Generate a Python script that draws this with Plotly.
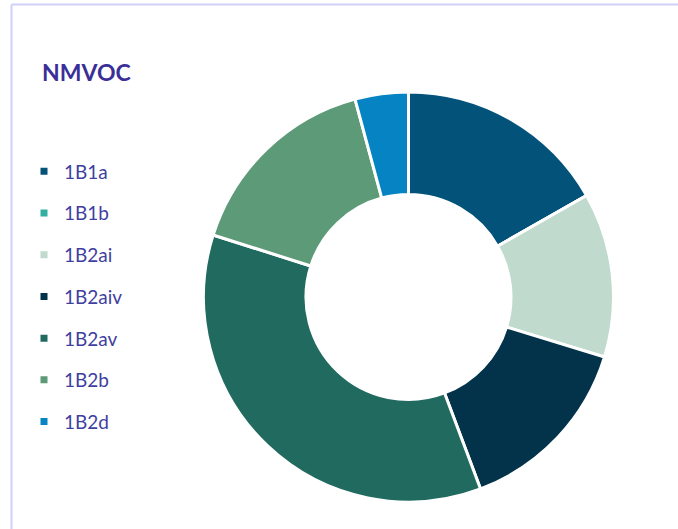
import plotly.graph_objects as go

categories = ["1B1a", "1B1b", "1B2ai", "1B2aiv", "1B2av", "1B2b", "1B2d"]
values = [16.75, 0.0, 12.97, 14.55, 35.6, 15.9, 4.2]
colors = ["#03527a", "#30afa2", "#c0dacd", "#02334a", "#206a60", "#5c9a78", "#0583c3"]
title_text = "NMVOC"

W, H = 678, 529
text_color = "#3f3fa0"

fig = go.Figure()

fig.add_trace(go.Pie(
    labels=categories,
    values=values,
    marker=dict(colors=colors, line=dict(color="white", width=3)),
    hole=0.5,
    sort=False,
    direction="clockwise",
    rotation=0,
    textinfo="none",
    hoverinfo="label+percent",
    showlegend=False,
    domain=dict(x=[203.5 / W, 613.5 / W], y=[27 / H, 437 / H]),
))

# legend entries (one per category)
for i, (cat, col) in enumerate(zip(categories, colors)):
    fig.add_trace(go.Scatter(
        x=[None], y=[None], mode="markers", name=cat,
        marker=dict(symbol="square", size=7, color=col),
        legendgroup=f"g{i}", showlegend=True,
    ))

fig.update_layout(
    width=W, height=H,
    margin=dict(l=0, r=0, t=0, b=0),
    paper_bgcolor="white",
    plot_bgcolor="white",
    xaxis=dict(visible=False),
    yaxis=dict(visible=False),
    title=dict(
        text=f"<b>{title_text}</b>",
        x=42 / W, xanchor="left",
        y=1 - 65 / H, yanchor="top",
        font=dict(family="Lato", size=23, color="#3a2f98"),
    ),
    legend=dict(
        x=24 / W, xanchor="left",
        y=1 - 152.5 / H, yanchor="top",
        font=dict(family="Lato", size=19, color=text_color),
        tracegroupgap=14,
        bgcolor="rgba(0,0,0,0)",
    ),
    shapes=[
        dict(type="line", xref="paper", yref="paper",
             x0=11.5 / W, x1=11.5 / W, y0=0, y1=1 - 4.5 / H,
             line=dict(color="#d0d0fa", width=2)),
        dict(type="line", xref="paper", yref="paper",
             x0=11.5 / W, x1=1, y0=1 - 4.5 / H, y1=1 - 4.5 / H,
             line=dict(color="#d0d0fa", width=2)),
    ],
)

fig.write_html(
    "out.html",
    config={"displayModeBar": False},
    post_script="document.body.style.margin='0';document.body.style.overflow='hidden';",
)
